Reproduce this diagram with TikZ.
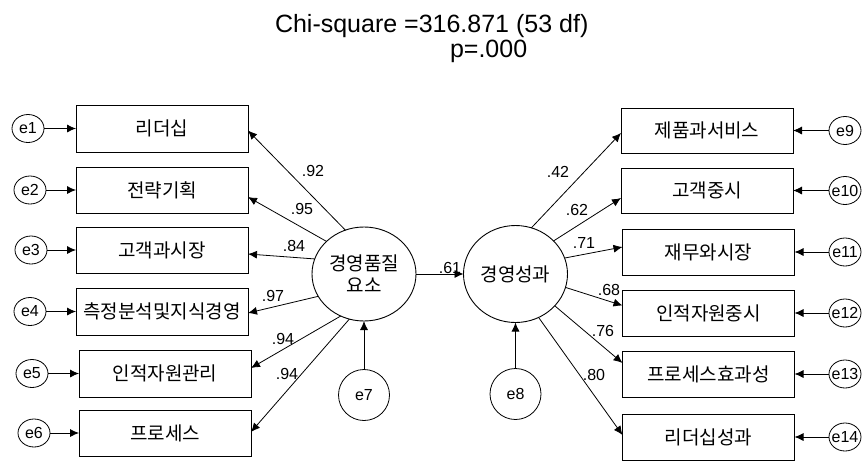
\documentclass[tikz,border=0pt]{standalone}
\usepackage{fontspec}
\setmainfont{Liberation Sans}
\newfontfamily\kr{Noto Sans CJK KR}
\usetikzlibrary{arrows.meta,shapes.geometric}
\begin{document}
\begin{tikzpicture}[x=1pt,y=-1pt,
  every node/.style={inner sep=0pt, outer sep=0pt},
  obs/.style={draw, line width=0.9pt, minimum width=172pt, minimum height=46pt, font=\kr\fontsize{19}{21}\selectfont},
  lat/.style={draw, ellipse, line width=0.9pt, align=center, minimum width=104pt, font=\kr\fontsize{19}{22}\selectfont},
  err/.style={draw, ellipse, line width=0.8pt, minimum width=32pt, minimum height=28pt},
  res/.style={draw, circle, line width=0.8pt, minimum size=51pt, font=\fontsize{16}{18}\selectfont},
  arr/.style={line width=0.8pt, -{Latex[length=9pt,width=8pt]}},
  lbl/.style={font=\fontsize{16}{18}\selectfont},
]
\useasboundingbox (0,0) rectangle (863,461);

% title
\node[anchor=base west, font=\fontsize{25}{28}\selectfont] (title) at (275,32) {Chi-square =316.871 (53 df)};
\node[anchor=base west, font=\fontsize{25}{28}\selectfont] (pval) at (450,57) {p=.000};

% latent variables
\node[lat, minimum height=94pt] (L) at (364,274) {경영품질\\요소};
\node[lat, minimum height=97pt] (R) at (515.5,274) {경영성과};
\node[res] (e7) at (364,395) {e7};
\node[res] (e8) at (515.5,394) {e8};

% left observed
\node[obs, minimum height=47pt] (b1) at (162,128.5) {리더십};
\node[obs] (b2) at (162,190) {전략기획};
\node[obs] (b3) at (162,250) {고객과시장};
\node[obs, minimum height=47pt] (b4) at (162,311.5) {측정분석및지식경영};
\node[obs, minimum height=47pt] (b5) at (165,373.5) {인적자원관리};
\node[obs] (b6) at (165,433) {프로세스};

% right observed
\node[obs, minimum height=45pt] (r1) at (707,130.5) {제품과서비스};
\node[obs, minimum height=45pt] (r2) at (707,190.5) {고객중시};
\node[obs] (r3) at (708.5,252) {재무와시장};
\node[obs] (r4) at (708.5,313) {인적자원중시};
\node[obs] (r5) at (708.5,374) {프로세스효과성};
\node[obs] (r6) at (708.5,437) {리더십성과};

% left errors
\node[err, label={[lbl]center:e1}] (e1) at (28,128.5) {};
\node[err, label={[lbl]center:e2}] (e2) at (30,190) {};
\node[err, label={[lbl]center:e3}] (e3) at (31,250) {};
\node[err, label={[lbl]center:e4}] (e4) at (30,311.5) {};
\node[err, label={[lbl]center:e5}] (e5) at (32,373.5) {};
\node[err, label={[lbl]center:e6}] (e6) at (34,433) {};

% right errors
\node[err, label={[lbl]center:e9}] (e9) at (845,130.5) {};
\node[err, label={[lbl]center:e10}] (e10) at (845,190.5) {};
\node[err, label={[lbl]center:e11}] (e11) at (845,252) {};
\node[err, label={[lbl]center:e12}] (e12) at (845,313) {};
\node[err, label={[lbl]center:e13}] (e13) at (845,374) {};
\node[err, label={[lbl]center:e14}] (e14) at (845,437) {};

% error arrows
\foreach \e/\b in {e1/b1,e2/b2,e3/b3,e4/b4,e5/b5,e6/b6}
  \draw[arr] (\e.east) -- (\e.east -| \b.west);
\foreach \e/\b in {e9/r1,e10/r2,e11/r3,e12/r4,e13/r5,e14/r6}
  \draw[arr] (\e.west) -- (\e.west -| \b.east);
\draw[arr] (e7) -- (L);
\draw[arr] (e8) -- (R);

% structural path
\draw[arr] (L) -- (R);

% loadings left
\draw[arr] (L.113) -- ([yshift=-2pt]b1.east);
\draw[arr] (L.139) -- ([yshift=-7pt]b2.east);
\draw[arr] (L.163) -- ([yshift=-4pt]b3.east);
\draw[arr] (L.206) -- ([yshift=-1.5pt]b4.east);
\draw[arr] (L.241) -- ([yshift=5.5pt]b5.east);
\draw[arr] (L.252) -- ([yshift=1pt]b6.east);

% loadings right
\draw[arr] (R.71) -- ([yshift=-2.5pt]r1.west);
\draw[arr] (R.41) -- ([yshift=-7.5pt]r2.west);
\draw[arr] (R.18) -- ([yshift=5pt]r3.west);
\draw[arr] (R.-15) -- ([yshift=7.5pt]r4.west);
\draw[arr] (R.-39) -- ([yshift=11pt]r5.west);
\draw[arr] (R.-62) -- ([yshift=2pt]r6.west);

% labels
\node[lbl] (l1) at (313,171) {.92};
\node[lbl] (l2) at (302,209) {.95};
\node[lbl] (l3) at (294,246) {.84};
\node[lbl] (l4) at (273,296) {.97};
\node[lbl] (l5) at (283,339) {.94};
\node[lbl] (l6) at (287,374) {.94};
\node[lbl] (l7) at (450,268) {.61};
\node[lbl] (l8) at (558,172) {.42};
\node[lbl] (l9) at (577,210) {.62};
\node[lbl] (l10) at (584,243) {.71};
\node[lbl] (l11) at (609,290) {.68};
\node[lbl] (l12) at (603,331) {.76};
\node[lbl] (l13) at (594,375) {.80};
\end{tikzpicture}
\end{document}
